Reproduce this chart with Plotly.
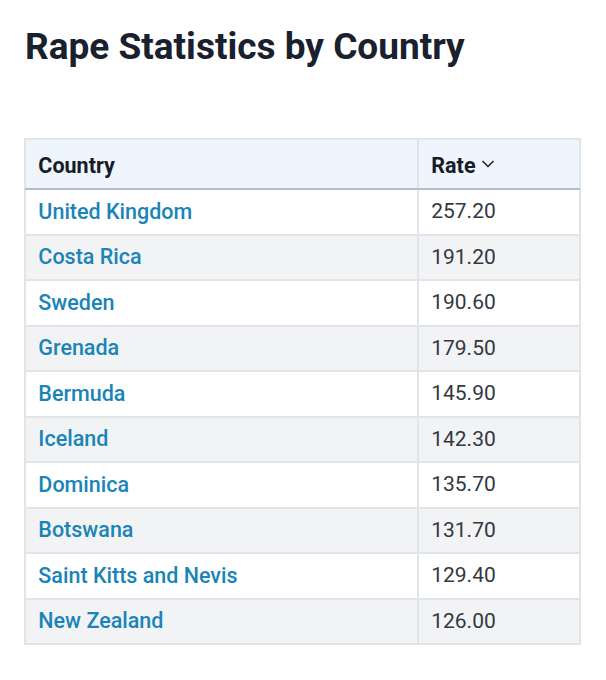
import plotly.graph_objects as go

title = "Rape Statistics by Country"
headers = ["Country", "Rate"]
countries = ["United Kingdom", "Costa Rica", "Sweden", "Grenada", "Bermuda",
             "Iceland", "Dominica", "Botswana", "Saint Kitts and Nevis", "New Zealand"]
rates = [257.20, 191.20, 190.60, 179.50, 145.90, 142.30, 135.70, 131.70, 129.40, 126.00]

# page body has an 8px margin, so the plot origin sits at (8, 8)
OFF = 8
W, H = 606 - OFF, 680 - OFF
left, right, top = 25 - OFF, 580 - OFF, 139 - OFF
header_h, row_h = 50, 45.5
text_dy = 5.5  # text sits lower in the cells than plotly's default

pad = "\u00a0"
row_fills = ["#ffffff" if i % 2 == 0 else "#f2f3f5" for i in range(len(countries))]
colw = [393, 162]
font_family = "Roboto"

# background table: fills and grid lines
bg = go.Table(
    domain=dict(x=[left / W, right / W], y=[0, 1 - top / H]),
    columnwidth=colw,
    header=dict(
        values=["", ""],
        fill_color="#eef5fc",
        line=dict(color="#e1e4e8", width=2),
        height=header_h,
    ),
    cells=dict(
        values=[[""] * len(countries), [""] * len(rates)],
        fill_color=[row_fills, row_fills],
        line=dict(color="#e1e4e8", width=2),
        height=row_h,
    ),
)

# text table: transparent, shifted a little lower
txt = go.Table(
    domain=dict(x=[left / W, right / W], y=[0, 1 - (top + text_dy) / H]),
    columnwidth=colw,
    header=dict(
        values=[f"{pad}<b>{headers[0]}</b>", f"{pad}<b>{headers[1]}</b>"],
        fill_color="rgba(0,0,0,0)",
        line=dict(width=0, color="rgba(0,0,0,0)"),
        align="left",
        height=header_h,
        font=dict(family=font_family, size=21.5, color="#161c28"),
    ),
    cells=dict(
        values=[[pad + c for c in countries], [pad + f"{r:.2f}" for r in rates]],
        fill_color="rgba(0,0,0,0)",
        line=dict(width=0, color="rgba(0,0,0,0)"),
        align="left",
        height=row_h,
        font=dict(family=font_family, size=[21.5, 21], color=["#1a84b8", "#333740"],
                  weight=[500, 400]),
    ),
)

fig = go.Figure([bg, txt])

# header bottom rule and sort chevron
hb = 1 - (top + header_h) / H
fig.add_shape(type="line", xref="paper", yref="paper",
              x0=left / W, x1=right / W, y0=hb, y1=hb,
              line=dict(color="#a9b1bb", width=1.5))
cx, cy = (488 - OFF) / W, 1 - (164 - OFF) / H
fig.add_shape(type="path", xref="paper", yref="paper",
              path=f"M {cx - 5.5/W} {cy + 3/H} L {cx} {cy - 2.5/H} L {cx + 5.5/W} {cy + 3/H}",
              line=dict(color="#161c28", width=1.5))

fig.update_layout(
    width=W, height=H,
    margin=dict(l=0, r=0, t=0, b=0),
    paper_bgcolor="#ffffff",
    title=dict(text=f"<b>{title}</b>", x=left / W, xanchor="left",
               y=1 - (46 - OFF) / H, yanchor="middle",
               font=dict(family=font_family, size=37, color="#19202e")),
)

fig.write_html("out.html")
